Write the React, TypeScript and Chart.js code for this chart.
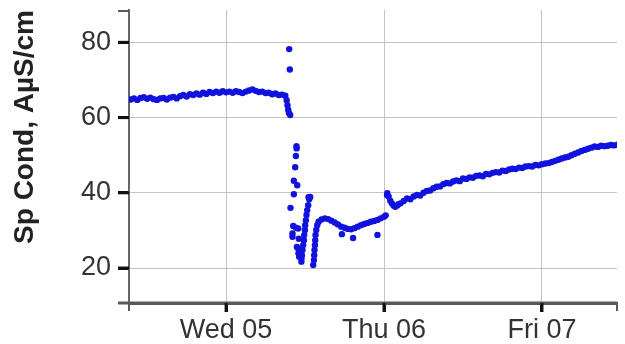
import React, { useEffect, useRef } from 'react';
import { Chart, registerables } from 'chart.js';

Chart.register(...registerables);

// ---- data (hours relative to Wed 05 00:00) ----
const dayTickHours = [0, 24, 48];
const dayTickLabels = ['Wed 05', 'Thu 06', 'Fri 07'];
const yTickValues = [20, 40, 60, 80];
const xRangeHours = [-14.75, 59.4];
const yRange = [10.7, 88.6];
const sampleStepHours = 0.5;

const preDropStartHour = -14.5;
const preDropValues = [
  64.8, 65.1, 64.7, 65.2, 65.4, 65.0, 65.3, 64.9, 64.7, 65.1,
  65.2, 64.8, 65.3, 65.5, 65.1, 65.7, 66.0, 65.6, 66.2, 66.0,
  66.4, 66.1, 66.6, 66.3, 66.8, 66.5, 66.9, 66.6, 67.0, 66.7,
  66.9, 66.6, 67.0, 66.8, 66.5, 66.9, 67.2, 67.5, 67.1, 66.8,
  66.9, 66.5, 66.6, 66.2, 66.4, 66.0, 66.1, 65.8,
];

const dipHours = [
  9.21, 9.33, 9.44, 9.55, 9.74, 9.59, 9.69,
  10.70, 10.72, 10.61, 10.50, 10.30, 10.81, 10.30, 9.79, 10.20, 10.61, 10.09, 10.09, 10.96,
  10.76, 11.0, 10.96, 11.22, 11.11, 11.05,
  12.78, 12.63, 12.53, 12.48, 12.33, 12.22, 12.13, 12.02, 11.98, 11.87, 11.83, 11.72, 11.61, 11.52, 11.46, 11.45,
  13.24, 13.35, 13.39, 13.44, 13.50, 13.55, 13.59, 13.70, 13.85, 14.05,
];
const dipValues = [
  64.6, 63.3, 62.1, 61.2, 60.7, 78.2, 72.8,
  52.4, 51.8, 49.8, 46.8, 43.2, 42.0, 39.6, 36.0, 31.2, 30.7, 29.2, 28.3, 30.5,
  25.6, 23.9, 25.2, 24.3, 23.0, 27.8,
  38.9, 38.3, 38.8, 36.7, 35.4, 34.1, 32.7, 31.4, 30.1, 28.8, 27.4, 26.1, 24.8, 23.4, 22.6, 21.7,
  20.8, 22.1, 23.4, 24.8, 26.1, 27.4, 28.8, 30.1, 31.4, 32.3,
];

const plateauStartHour = 14.5;
const plateauValues = [
  32.9, 33.2, 33.0, 32.6, 32.1, 31.6, 31.0, 30.7, 30.4, 30.3,
  30.6, 31.0, 31.4, 31.7, 32.0, 32.3, 32.5, 32.8, 33.2, 33.6,
];

const strayHours = [17.6, 19.3, 23.0, 24.25];
const strayValues = [29.0, 28.0, 28.8, 34.0];

const recoveryHours = [24.45, 24.5, 24.7, 24.95, 25.2, 25.45, 25.7, 26.0, 26.2];
const recoveryValues = [39.4, 39.9, 39.0, 37.9, 37.2, 36.6, 36.3, 36.6, 37.0];

const riseStartHour = 26.5;
const riseValues = [
  37.2, 37.8, 38.5, 38.3, 39.0, 39.4, 39.3, 40.0, 40.5, 40.6,
  41.2, 41.6, 41.7, 42.3, 42.6, 42.5, 43.0, 43.3, 43.1, 43.8,
  43.7, 44.1, 44.0, 44.5, 44.6, 44.4, 45.0, 44.9, 45.3, 45.5,
  45.4, 45.9, 45.8, 46.2, 46.4, 46.3, 46.7, 46.6, 47.0, 47.1,
  47.0, 47.4, 47.3, 47.6, 47.8, 47.9, 48.2, 48.5, 48.8, 49.1,
  49.4, 49.6, 50.0, 50.4, 50.7, 51.1, 51.4, 51.7, 52.0, 52.3,
  52.2, 52.5, 52.4, 52.5, 52.7, 52.6, 52.8,
];

const FONT = "'Liberation Sans', Arial, sans-serif";

function regular(start: number, vals: number[]) {
  return vals.map((v, i) => ({ x: start + i * sampleStepHours, y: v }));
}
function paired(hs: number[], vs: number[]) {
  return hs.map((h, i) => ({ x: h, y: vs[i] }));
}

const axisExtras = {
  id: 'axisExtras',
  afterDraw(chart: any) {
    const { ctx, chartArea, scales } = chart;
    const { left, right, top, bottom } = chartArea;
    ctx.save();
    // axis line extension and end caps
    ctx.fillStyle = '#5a5a5a';
    ctx.fillRect(left - 11, bottom - 1.5, right - left + 11, 3);
    ctx.fillRect(left - 1, bottom, 2, 8);
    ctx.fillRect(right - 1, bottom, 2, 8);
    ctx.fillRect(left - 11, top, 11, 2);
    // major tick marks
    ctx.fillStyle = '#111';
    yTickValues.forEach((v) => {
      const y = scales.y.getPixelForValue(v);
      ctx.fillRect(left - 11, y - 1.5, 11, 3);
    });
    dayTickHours.forEach((h) => {
      const x = scales.x.getPixelForValue(h);
      ctx.fillRect(x - 1.5, bottom, 3, 9);
    });
    ctx.restore();
  },
};

export default function App() {
  const ref = useRef<HTMLCanvasElement | null>(null);

  useEffect(() => {
    document.body.style.margin = '0';
    const canvas = ref.current;
    if (!canvas) return;
    const data = [
      ...regular(preDropStartHour, preDropValues),
      ...paired(dipHours, dipValues),
      ...regular(plateauStartHour, plateauValues),
      ...paired(strayHours, strayValues),
      ...paired(recoveryHours, recoveryValues),
      ...regular(riseStartHour, riseValues),
    ];
    const chart = new Chart(canvas, {
      type: 'scatter',
      data: {
        datasets: [
          {
            data,
            pointRadius: 3.2,
            pointBorderWidth: 0,
            pointBackgroundColor: 'rgb(18,18,222)',
            pointBorderColor: 'rgb(18,18,222)',
          },
        ],
      },
      plugins: [axisExtras],
      options: {
        responsive: false,
        animation: false,
        layout: { padding: { top: 10, right: 8, left: 0, bottom: 0 } },
        plugins: { legend: { display: false }, tooltip: { enabled: false } },
        scales: {
          x: {
            type: 'linear',
            min: xRangeHours[0],
            max: xRangeHours[1],
            afterBuildTicks: (s: any) => {
              s.ticks = dayTickHours.map((v) => ({ value: v }));
            },
            afterFit: (s: any) => {
              s.height = 41;
              s.paddingLeft = 0;
              s.paddingRight = 0;
            },
            grid: { color: '#cdbfbd', lineWidth: 1, tickColor: '#111', tickWidth: 3, tickLength: 9 },
            border: { display: true, color: '#5a5a5a', width: 3 },
            ticks: {
              autoSkip: false,
              maxRotation: 0,
              padding: 2,
              color: '#333',
              font: { family: FONT, size: 27 },
              callback: (v: any) => dayTickLabels[dayTickHours.indexOf(Number(v))] ?? '',
            },
          },
          y: {
            min: yRange[0],
            max: yRange[1],
            afterBuildTicks: (s: any) => {
              s.ticks = yTickValues.map((v) => ({ value: v }));
            },
            afterFit: (s: any) => {
              s.width = 129;
              s.paddingTop = 0;
              s.paddingBottom = 0;
            },
            grid: { color: '#cdbfbd', lineWidth: 1, tickColor: '#111', tickWidth: 3, tickLength: 11 },
            border: { display: true, color: '#666', width: 2 },
            ticks: {
              padding: 7,
              color: '#333',
              font: { family: FONT, size: 27 },
            },
            title: {
              display: true,
              text: 'Sp Cond, AµS/cm',
              align: 'end',
              color: '#222',
              font: { family: FONT, size: 28, weight: 'bold' },
              padding: { top: 8, bottom: 0 },
            },
          },
        },
      },
    });
    return () => chart.destroy();
  }, []);

  return (
    <div style={{ width: 625, height: 344 }}>
      <canvas ref={ref} width={625} height={344} style={{ display: 'block' }} />
    </div>
  );
}
